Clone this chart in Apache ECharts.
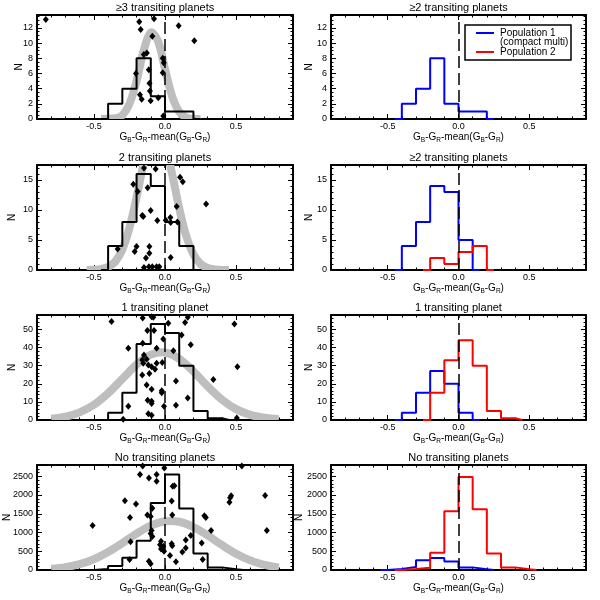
<!DOCTYPE html>
<html>
<head>
<meta charset="utf-8">
<title>Colour distributions by transit multiplicity</title>
<script src="https://cdn.jsdelivr.net/npm/echarts@6/dist/echarts.min.js"></script>
<style>html,body{margin:0;padding:0;background:#fff}#chart{width:600px;height:600px}</style>
</head>
<body>
<div id="chart"></div>
<script>
// histogram bins (left edges, width 0.1)
var binStarts = [-0.5, -0.4, -0.3, -0.2, -0.1, 0.0, 0.1, 0.2, 0.3, 0.4];
var binWidth = 0.1;

// left column: all stars of each group
var histGe3   = [0, 2, 4, 8, 3, 1, 1, 0, 0, 0];
var hist2     = [0, 4, 8, 16, 14, 8, 4, 0, 0, 0];
var hist1     = [0, 4, 15, 42, 53, 48, 30, 5, 1, 0];
var hist0     = [30, 105, 330, 780, 1790, 2550, 1640, 440, 70, 20];

// right column: population 1 (blue) / population 2 (red)
var pop1Top   = [0, 2, 4, 8, 2, 1, 1, 0, 0, 0];
var pop1Ge2   = [0, 4, 8, 14, 13, 5, 0, 0, 0, 0];
var pop2Ge2   = [0, 0, 0, 2, 1, 3, 4, 0, 0, 0];
var pop1One   = [0, 4, 15, 27, 20, 4, 0, 0, 0, 0];
var pop2One   = [0, 0, 0, 15, 33, 44, 30, 5, 1, 0];
var pop1None  = [30, 80, 260, 320, 230, 70, 20, 0, 0, 0];
var pop2None  = [0, 25, 60, 460, 1570, 2480, 1620, 440, 70, 20];

// grey gaussian curves
var gaussX1 = [-0.45, -0.4, -0.35, -0.3, -0.25, -0.2, -0.15, -0.1, -0.05, 0, 0.05, 0.1, 0.15, 0.2, 0.25];
var gaussY1 = [0, 0.02, 0.1, 0.5, 2.0, 5.0, 9.0, 11.4, 10.3, 6.6, 3.0, 0.95, 0.2, 0.03, 0];
var gaussX2 = [-0.55, -0.5, -0.45, -0.4, -0.35, -0.3, -0.25, -0.2, -0.15, -0.1, -0.05, 0, 0.05, 0.1, 0.15, 0.2, 0.25, 0.3, 0.35, 0.4, 0.45];
var gaussY2 = [0.01, 0.04, 0.15, 0.5, 1.4, 3.4, 7.0, 12.1, 17.8, 22.2, 23.4, 21.0, 16.0, 10.3, 5.6, 2.6, 1.0, 0.34, 0.1, 0.02, 0];
var gaussX3 = [-0.8, -0.7, -0.6, -0.5, -0.4, -0.3, -0.2, -0.1, 0, 0.1, 0.2, 0.3, 0.4, 0.5, 0.6, 0.7, 0.8];
var gaussY3 = [0.7, 1.8, 4.2, 8.4, 14.8, 22.7, 30.6, 36.1, 37.3, 33.8, 26.8, 18.6, 11.3, 6.0, 2.8, 1.2, 0.4];
var gaussX4 = [-0.8, -0.7, -0.6, -0.5, -0.4, -0.3, -0.2, -0.1, 0, 0.1, 0.2, 0.3, 0.4, 0.5, 0.6, 0.7, 0.8];
var gaussY4 = [33, 76, 155, 287, 478, 718, 970, 1183, 1299, 1286, 1146, 921, 667, 435, 256, 135, 65];

// black diamonds
var dotsGe3 = [[-0.838,13.1],[-0.181,12.8],[-0.171,11.8],[-0.077,13.2],[-0.089,10.9],[0.096,12.3],[0.206,10.3],
  [-0.149,8.5],[-0.128,8.7],[-0.204,6.0],[-0.114,6.5],[-0.016,8.0],[-0.009,7.4],[-0.016,6.1],[-0.109,4.7],
  [-0.106,3.7],[-0.176,3.2],[-0.164,2.6],[-0.101,2.4],[-0.047,2.8],[-0.012,0.4]];
var dots2 = [[-0.148,17.0],[-0.066,16.85],[-0.223,14.3],[-0.192,13.1],[-0.122,13.7],[0.106,15.45],[0.125,14.7],
  [0.289,11.0],[0.082,10.6],[-0.160,9.1],[-0.153,8.9],[-0.101,9.9],[-0.054,8.26],[0.005,8.3],[0.038,8.76],
  [0.04,7.9],[0.087,8.0],[-0.333,3.5],[-0.2,3.9],[-0.213,3.1],[-0.11,3.9],[-0.11,2.8],[-0.134,2.0],[0.04,2.1],
  [-0.148,0.4],[-0.113,0.56],[-0.089,0.56],[-0.059,0.56],[-0.04,0.56]];
var dots1 = [[-0.376,54.4],[-0.157,56.3],[-0.094,57],[-0.082,56.7],[0.023,53.5],[0.141,53.9],[0.16,56.7],[0.117,47],
  [-0.124,49.4],[-0.077,49.4],[-0.012,44.8],[-0.258,39.6],[-0.157,42.4],[-0.059,39.6],[0.059,38.3],[0.181,41.5],
  [0.488,53],[0.509,29.4],[-0.148,35.9],[-0.16,33.1],[-0.129,33.5],[-0.153,31.3],[-0.117,30.4],[-0.094,29.4],
  [-0.07,28.1],[-0.059,31.3],[-0.019,31.7],[-0.16,24.8],[-0.11,25.7],[-0.129,19.3],[-0.094,17],[-0.023,16.1],
  [-0.023,15],[0.077,21.5],[0.34,22.4],[-0.122,10.9],[-0.094,10.4],[-0.094,9.1],[-0.258,7.6],[-0.007,7.6],
  [0.077,8.1],[0.16,12.2],[-0.117,3.5],[-0.094,2.6],[-0.294,0.4],[0.505,1.1]];
var dots0 = [[-0.157,2773],[-0.005,2720],[-0.176,2544],[-0.113,2456],[-0.059,2544],[-0.059,2368],[0.066,2244],
  [0.054,2235],[0.54,2773],[-0.282,1848],[-0.204,1760],[0.047,1840],[0.453,1804],[0.458,1927],[0.465,1980],
  [0.704,1989],[0.716,1054],[-0.124,1468],[-0.101,1424],[-0.089,1644],[-0.246,1398],[0.051,1468],[0.277,1450],
  [0.287,1398],[0.324,1054],[-0.509,1186],[-0.094,1054],[-0.101,975],[-0.089,896],[-0.242,755],[-0.028,764],
  [-0.012,632],[-0.007,500],[-0.035,676],[0.047,702],[0.051,650],[0.146,800],[0.181,923],[0.258,720],
  [0.146,588],[0.122,482],[0.035,385],[-0.028,562],[0.077,218],[-0.249,280],[0.265,280],[-0.113,236],[-0.101,166]];

// axes ticks
var xTicks = [-0.5, 0.0, 0.5];
var yTicksList = [[0, 2, 4, 6, 8, 10, 12], [0, 5, 10, 15], [0, 10, 20, 30, 40, 50], [0, 500, 1000, 1500, 2000, 2500]];
var yMinorStep = [0.5, 1, 2, 100];
var yMaxList = [13.7, 17.5, 58, 2800];

var titlesLeft = ['\u22653 transiting planets', '2 transiting planets', '1 transiting planet', 'No transiting planets'];
var titlesRight = ['\u22652 transiting planets', '\u22652 transiting planets', '1 transiting planet', 'No transiting planets'];
var legendNames = ['Population 1', '(compact multi)', 'Population 2'];

var leftHists = [histGe3, hist2, hist1, hist0];
var blueHists = [pop1Top, pop1Ge2, pop1One, pop1None];
var redHists = [null, pop2Ge2, pop2One, pop2None];
var gaussX = [gaussX1, gaussX2, gaussX3, gaussX4];
var gaussY = [gaussY1, gaussY2, gaussY3, gaussY4];
var dots = [dotsGe3, dots2, dots1, dots0];

// layout
var FONT = 'Liberation Sans, Arial, Helvetica, sans-serif';
var rowTops = [15, 165, 315, 465];
var rowHeight = 105;
var colLeft = [37, 331];
var colWidth = [256, 255];
var nameGapL = [13, 20, 20, 25];
var nameGapR = [17, 17, 17, 27];
var xMin = -0.9, xMax = 0.9;

function stepsFrom(lo, hi, step) {
  var out = [];
  for (var v = lo; v <= hi + 1e-9; v += step) out.push(Math.round(v / step) * step);
  return out;
}
var xMinor = stepsFrom(-0.9, 0.9, 0.1);

function histData(counts) {
  var i0 = -1, i1 = -1;
  counts.forEach(function (c, i) { if (c > 0) { if (i0 < 0) i0 = i; i1 = i; } });
  var pts = [[binStarts[i0] - binWidth / 2, 0]];
  for (var i = i0; i <= i1; i++) pts.push([binStarts[i], counts[i]]);
  pts.push([binStarts[i1] + binWidth, 0]);
  pts.push([binStarts[i1] + 1.5 * binWidth, 0]);
  return pts;
}

var xName = '{a|G}{b|B}{a|-G}{b|R}{a|-mean(G}{b|B}{a|-G}{b|R}{a|)}';
var xNameStyle = {
  color: '#000',
  rich: {
    a: { fontSize: 10, fontFamily: FONT, color: '#000', lineHeight: 14 },
    b: { fontSize: 6.5, fontFamily: FONT, color: '#000', lineHeight: 8, padding: [6, 0, 0, 0] }
  }
};

var grids = [], xAxes = [], yAxes = [], series = [], titles = [];

function addPanel(row, col) {
  var k = grids.length;
  grids.push({ left: colLeft[col], top: rowTops[row], width: colWidth[col], height: rowHeight - (row === 0 ? 1 : 0) });
  var yMax = yMaxList[row];
  var yTicks = yTicksList[row];
  var yMinor = stepsFrom(0, yMax, yMinorStep[row]);

  [['bottom', true], ['bottom', false], ['top', true], ['top', false]].forEach(function (d) {
    var main = d[1], labels = d[0] === 'bottom' && main;
    xAxes.push({
      type: 'value', gridIndex: k, position: d[0], min: xMin, max: xMax,
      axisLine: { show: main, onZero: false, lineStyle: { color: '#000', width: 2 } },
      axisTick: { show: true, inside: true, length: main ? 5 : 2.5, customValues: main ? xTicks : xMinor,
        lineStyle: { color: '#000', width: 1 } },
      axisLabel: { show: labels, customValues: xTicks, margin: 3, color: '#000', fontSize: 9, fontFamily: FONT,
        formatter: function (v) { return v.toFixed(1); } },
      splitLine: { show: false },
      name: labels ? xName : '', nameLocation: 'middle', nameGap: 11, nameMoveOverlap: false,
      nameTextStyle: xNameStyle
    });
  });
  [['left', true], ['left', false], ['right', true], ['right', false]].forEach(function (d) {
    var main = d[1], labels = d[0] === 'left' && main;
    yAxes.push({
      type: 'value', gridIndex: k, position: d[0], min: 0, max: yMax,
      axisLine: { show: main, onZero: false, lineStyle: { color: '#000', width: 2 } },
      axisTick: { show: true, inside: true, length: main ? 5 : 2.5, customValues: main ? yTicks : yMinor,
        lineStyle: { color: '#000', width: 1 } },
      axisLabel: { show: labels, customValues: yTicks, margin: 4, color: '#000', fontSize: 9, fontFamily: FONT,
        formatter: function (v) { return String(v); } },
      splitLine: { show: false },
      name: labels ? 'N' : '', nameLocation: 'middle', nameMoveOverlap: false,
      nameGap: col === 0 ? nameGapL[row] : nameGapR[row],
      nameTextStyle: { color: '#000', fontSize: 10, fontFamily: FONT }
    });
  });

  var ax = { xAxisIndex: 4 * k, yAxisIndex: 4 * k };
  if (col === 0) {
    var gx = gaussX[row], gy = gaussY[row];
    series.push(Object.assign({
      type: 'custom', clip: true, z: 1, silent: true,
      data: gx.map(function (x, i) { return [x, gy[i]]; }),
      encode: { x: 0, y: 1 },
      renderItem: function (params, api) {
        if (params.dataIndex !== 0) return null;
        var pts = gx.map(function (x, i) { return api.coord([x, gy[i]]); });
        return { type: 'polyline', shape: { points: pts, smooth: 0.35 },
          style: { stroke: '#bebebe', lineWidth: 8, fill: null } };
      }
    }, ax));
    series.push(Object.assign({
      type: 'line', step: 'end', showSymbol: false, z: 2, silent: true,
      data: histData(leftHists[row]), lineStyle: { color: '#000', width: 2 }
    }, ax));
    series.push(Object.assign({
      type: 'scatter', symbol: 'diamond', symbolSize: [6, 7], z: 4, silent: true,
      data: dots[row], itemStyle: { color: '#000', opacity: 1 }
    }, ax));
  } else {
    series.push(Object.assign({
      type: 'line', step: 'end', showSymbol: false, z: 2, silent: true,
      data: histData(blueHists[row]), lineStyle: { color: '#0000ff', width: 2 }
    }, ax));
    if (redHists[row]) {
      series.push(Object.assign({
        type: 'line', step: 'end', showSymbol: false, z: 2, silent: true,
        data: histData(redHists[row]), lineStyle: { color: '#ff0000', width: 2 }
      }, ax));
    }
  }
  // dashed line at zero
  series.push(Object.assign({
    type: 'scatter', data: [], z: 3, silent: true,
    markLine: { silent: true, symbol: ['none', 'none'], label: { show: false },
      lineStyle: { color: '#000', type: [12, 5], width: 1.5 }, data: [{ xAxis: 0 }] }
  }, ax));

  titles.push({
    text: (col === 0 ? titlesLeft : titlesRight)[row],
    left: colLeft[col] + colWidth[col] / 2, top: rowTops[row] - 13, textAlign: 'center', padding: 0,
    textStyle: { fontSize: 11, fontWeight: 'normal', color: '#000', fontFamily: FONT }
  });
}

for (var r = 0; r < 4; r++) { addPanel(r, 0); addPanel(r, 1); }

var chart = echarts.init(document.getElementById('chart'));
chart.setOption({
  animation: false,
  backgroundColor: '#fff',
  title: titles,
  grid: grids,
  xAxis: xAxes,
  yAxis: yAxes,
  series: series,
  graphic: [
    { type: 'rect', z: 100, shape: { x: 465, y: 25, width: 106, height: 35 },
      style: { fill: '#fff', stroke: '#000', lineWidth: 1.5 } },
    { type: 'line', z: 101, shape: { x1: 476, y1: 33, x2: 494, y2: 33 }, style: { stroke: '#0000ff', lineWidth: 2 } },
    { type: 'line', z: 101, shape: { x1: 476, y1: 52, x2: 494, y2: 52 }, style: { stroke: '#ff0000', lineWidth: 2 } },
    { type: 'text', z: 101, x: 500, y: 33, style: { text: legendNames[0], fill: '#000', font: '10px ' + FONT, textVerticalAlign: 'middle' } },
    { type: 'text', z: 101, x: 500, y: 42.5, style: { text: legendNames[1], fill: '#000', font: '10px ' + FONT, textVerticalAlign: 'middle' } },
    { type: 'text', z: 101, x: 500, y: 52, style: { text: legendNames[2], fill: '#000', font: '10px ' + FONT, textVerticalAlign: 'middle' } }
  ]
});
</script>
</body>
</html>
